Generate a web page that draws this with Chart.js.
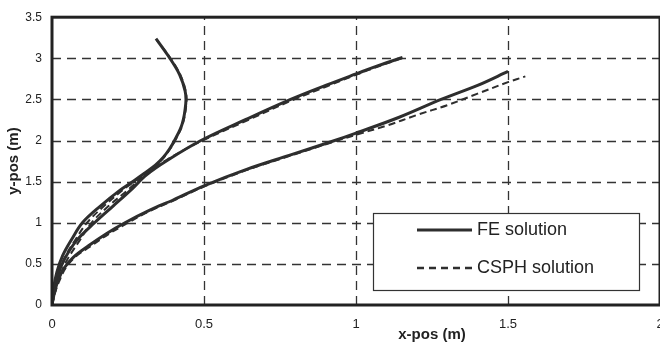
<!DOCTYPE html>
<html><head><meta charset="utf-8">
<script src="https://cdn.jsdelivr.net/npm/chart.js@4/dist/chart.umd.min.js"></script>
<style>
html,body{margin:0;padding:0;background:#fff;overflow:hidden;}
#wrap{position:absolute;left:0;top:0;width:660px;height:346px;overflow:hidden;}
canvas{display:block;}
</style></head>
<body>
<div id="wrap"><canvas id="c" width="680" height="346"></canvas></div>
<script>
// Tick labels
const xTickValues = [0, 0.5, 1, 1.5, 2];
const yTickValues = [0, 0.5, 1, 1.5, 2, 2.5, 3, 3.5];
const seriesLabels = ['FE solution', 'CSPH solution'];

// FE solution, curve A (bends back)
const feA_x = [0,0.005,0.016,0.035,0.065,0.1,0.158,0.225,0.265,0.303,0.34,0.367,0.387,0.403,0.428,0.44,0.438,0.42,0.388,0.342];
const feA_y = [0,0.2,0.4,0.6,0.8,1.0,1.2,1.4,1.5,1.6,1.7,1.8,1.9,2.0,2.2,2.45,2.6,2.8,3.0,3.24];
// CSPH solution, curve A
const csA_x = [0,0.008,0.022,0.045,0.078,0.115,0.17,0.233,0.271,0.307,0.343,0.369,0.389,0.405,0.43,0.442,0.44,0.422,0.39,0.345];
const csA_y = [0,0.2,0.4,0.6,0.8,1.0,1.2,1.4,1.5,1.6,1.7,1.8,1.9,2.0,2.2,2.45,2.6,2.8,3.0,3.22];

// FE solution, curve B
const feB_x = [0,0.006,0.018,0.04,0.08,0.14,0.2,0.26,0.31,0.38,0.49,0.64,0.785,0.9,1.0,1.08,1.153];
const feB_y = [0,0.15,0.35,0.55,0.78,1.0,1.2,1.4,1.58,1.76,2.0,2.26,2.5,2.67,2.81,2.92,3.01];
// CSPH solution, curve B
const csB_x = [0,0.01,0.025,0.05,0.09,0.13,0.185,0.25,0.305,0.375,0.49,0.645,0.79,0.905,1.0,1.08,1.15];
const csB_y = [0,0.15,0.35,0.55,0.78,1.0,1.2,1.4,1.58,1.76,1.99,2.25,2.49,2.66,2.8,2.91,3.0];

// FE solution, curve C
const feC_x = [0,0.008,0.02,0.04,0.07,0.12,0.18,0.24,0.32,0.4,0.5,0.64,0.78,0.93,1.0,1.14,1.28,1.4,1.5];
const feC_y = [0,0.15,0.3,0.45,0.58,0.72,0.87,1.0,1.15,1.28,1.45,1.65,1.82,2.0,2.09,2.28,2.5,2.67,2.84];
// CSPH solution, curve C
const csC_x = [0,0.01,0.025,0.045,0.075,0.125,0.185,0.245,0.32,0.4,0.5,0.64,0.78,0.93,1.0,1.1,1.2,1.3,1.4,1.5,1.557];
const csC_y = [0,0.15,0.3,0.45,0.58,0.71,0.86,0.99,1.14,1.27,1.44,1.64,1.81,1.99,2.07,2.18,2.31,2.43,2.57,2.71,2.78];

function pts(xs, ys){ return xs.map((x,i)=>({x:x, y:ys[i]})); }

const LINE = '#2e2e2e';
const solidStyle = {borderColor: LINE, borderWidth: 3, borderDash: [], pointRadius: 0, showLine: true, fill: false, tension: 0.35};
const dashStyle = {borderColor: LINE, borderWidth: 2, borderDash: [7, 4], pointRadius: 0, showLine: true, fill: false, tension: 0.35};

const datasets = [
  Object.assign({label: seriesLabels[1], data: pts(csA_x, csA_y)}, dashStyle),
  Object.assign({label: seriesLabels[1], data: pts(csB_x, csB_y)}, dashStyle),
  Object.assign({label: seriesLabels[1], data: pts(csC_x, csC_y)}, dashStyle),
  Object.assign({label: seriesLabels[0], data: pts(feA_x, feA_y)}, solidStyle),
  Object.assign({label: seriesLabels[0], data: pts(feB_x, feB_y)}, solidStyle),
  Object.assign({label: seriesLabels[0], data: pts(feC_x, feC_y)}, solidStyle),
];

const bgPlugin = {
  id: 'bg',
  beforeDraw(chart){
    const c = chart.ctx; c.save(); c.fillStyle = '#fff'; c.fillRect(0,0,chart.width,chart.height); c.restore();
  },
  beforeDatasetsDraw(chart){
    // dashed grid lines at the scale ticks
    const c = chart.ctx, a = chart.chartArea, xs = chart.scales.x, ys = chart.scales.y;
    c.save();
    c.strokeStyle = '#333'; c.lineWidth = 1.3; c.setLineDash([9, 6]);
    xTickValues.forEach(v => {
      const px = Math.round(xs.getPixelForValue(v)) + 0.5;
      if (px <= a.left + 2 || px >= a.right - 2) return;
      c.beginPath(); c.moveTo(px, a.bottom); c.lineTo(px, a.top); c.stroke();
    });
    yTickValues.forEach(v => {
      const py = Math.round(ys.getPixelForValue(v)) + 0.5;
      if (py <= a.top + 2 || py >= a.bottom - 2) return;
      c.beginPath(); c.moveTo(a.left, py); c.lineTo(a.right, py); c.stroke();
    });
    c.restore();
  }
};

const framePlugin = {
  id: 'frame',
  afterDraw(chart){
    const c = chart.ctx, a = chart.chartArea;
    c.save();
    c.strokeStyle = '#222'; c.lineWidth = 3;
    c.strokeRect(a.left, a.top, a.right - a.left, a.bottom - a.top);
    // x-axis title
    const xs = chart.scales.x;
    c.fillStyle = '#222';
    c.font = 'bold 15px "Liberation Sans", Arial, sans-serif';
    c.textAlign = 'center'; c.textBaseline = 'middle';
    c.fillText('x-pos (m)', xs.getPixelForValue(1.25), 335);
    // legend box
    const bx = 373, by = 213, bw = 266, bh = 77;
    c.fillStyle = '#fff'; c.fillRect(bx, by, bw, bh);
    c.lineWidth = 1.2; c.strokeStyle = '#333';
    c.strokeRect(bx + 0.5, by + 0.5, bw, bh);
    const items = [{y: 230, dash: [], w: 3, label: seriesLabels[0]}, {y: 268, dash: [7, 5], w: 2.5, label: seriesLabels[1]}];
    items.forEach(it => {
      c.beginPath(); c.setLineDash(it.dash); c.lineWidth = it.w; c.strokeStyle = LINE;
      c.moveTo(417, it.y); c.lineTo(472, it.y); c.stroke();
      c.setLineDash([]);
      c.fillStyle = '#222'; c.font = '18px "Liberation Sans", Arial, sans-serif';
      c.textAlign = 'left'; c.textBaseline = 'middle';
      c.fillText(it.label, 477, it.y);
    });
    c.restore();
  }
};

new Chart(document.getElementById('c'), {
  type: 'scatter',
  data: {datasets},
  options: {
    responsive: false,
    animation: false,
    events: [],
    layout: {padding: {left: 0, top: 11, right: 20, bottom: 0}},
    plugins: {legend: {display: false}, tooltip: {enabled: false}, title: {display: false}},
    scales: {
      x: {
        type: 'linear', min: 0, max: 2,
        afterBuildTicks(s){ s.ticks = xTickValues.map(v => ({value: v})); },
        afterFit(s){ s.height = 41; },
        grid: {display: false, drawTicks: false},
        border: {display: false},
        ticks: {
          padding: 12, color: '#222', maxRotation: 0, autoSkip: false,
          font: {family: '"Liberation Sans", Arial, sans-serif', size: 13},
          callback: v => String(v)
        }
      },
      y: {
        type: 'linear', min: 0, max: 3.5,
        afterBuildTicks(s){ s.ticks = yTickValues.map(v => ({value: v})); },
        afterFit(s){ s.width = 52; },
        grid: {display: false, drawTicks: false},
        border: {display: false},
        title: {
          display: true, text: 'y-pos (m)', color: '#222',
          font: {family: '"Liberation Sans", Arial, sans-serif', size: 15, weight: 'bold'},
          padding: {top: 5, bottom: 0}
        },
        ticks: {
          padding: 10, color: '#222', autoSkip: false,
          font: {family: '"Liberation Sans", Arial, sans-serif', size: 12},
          callback: v => String(v)
        }
      }
    }
  },
  plugins: [bgPlugin, framePlugin]
});
</script>
</body></html>
